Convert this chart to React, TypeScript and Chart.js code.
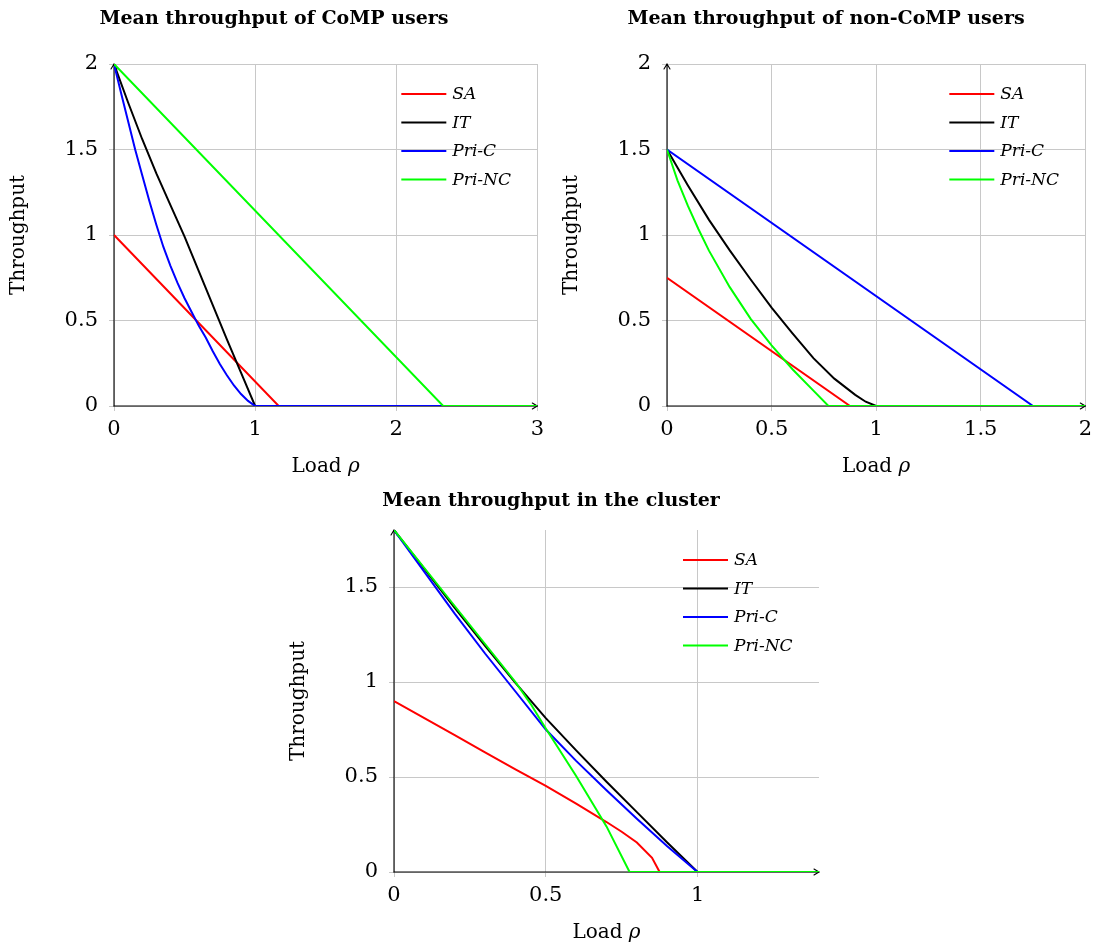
import React, { useEffect, useRef } from "react";
import { Chart, registerables } from "chart.js";

Chart.register(...registerables);

const SERIES_LABELS = ["SA", "IT", "Pri-C", "Pri-NC"];
const SERIES_COLORS = ["#ff0000", "#000000", "#0000ff", "#00ff00"];
const FONT = "'DejaVu Serif', serif";
const GRID = "#c8c8c8";

// ---------- Panel 1: CoMP users ----------
const COMP_TITLE = "Mean throughput of CoMP users";
const COMP_X_TICKS = [0, 1, 2, 3];
const COMP_X_LABELS = ["0", "1", "2", "3"];
const COMP_Y_TICKS = [0, 0.5, 1, 1.5, 2];
const COMP_Y_LABELS = ["0", "0.5", "1", "1.5", "2"];
const COMP_SA_X = [0, 1.167, 3];
const COMP_SA_Y = [1, 0, 0];
const COMP_IT_X = [0, 0.1, 0.2, 0.3, 0.4, 0.5, 0.6, 0.7, 0.8, 0.9, 1.0, 3];
const COMP_IT_Y = [2, 1.775, 1.56, 1.36, 1.175, 0.99, 0.79, 0.59, 0.39, 0.195, 0, 0];
const COMP_PRIC_X = [0, 0.05, 0.1, 0.15, 0.2, 0.25, 0.3, 0.35, 0.4, 0.45, 0.5, 0.55, 0.6, 0.65, 0.7, 0.75, 0.8, 0.85, 0.9, 0.95, 1.0, 3];
const COMP_PRIC_Y = [2, 1.83, 1.665, 1.5, 1.35, 1.2, 1.06, 0.93, 0.82, 0.72, 0.63, 0.55, 0.47, 0.4, 0.32, 0.245, 0.18, 0.12, 0.07, 0.03, 0, 0];
const COMP_PRINC_X = [0, 2.333, 3];
const COMP_PRINC_Y = [2, 0, 0];

// ---------- Panel 2: non-CoMP users ----------
const NONCOMP_TITLE = "Mean throughput of non-CoMP users";
const NONCOMP_X_TICKS = [0, 0.5, 1, 1.5, 2];
const NONCOMP_X_LABELS = ["0", "0.5", "1", "1.5", "2"];
const NONCOMP_Y_TICKS = [0, 0.5, 1, 1.5, 2];
const NONCOMP_Y_LABELS = ["0", "0.5", "1", "1.5", "2"];
const NONCOMP_SA_X = [0, 0.875, 2];
const NONCOMP_SA_Y = [0.75, 0, 0];
const NONCOMP_IT_X = [0, 0.1, 0.2, 0.3, 0.4, 0.5, 0.6, 0.7, 0.8, 0.9, 0.95, 1.0, 2];
const NONCOMP_IT_Y = [1.5, 1.29, 1.09, 0.91, 0.74, 0.575, 0.425, 0.28, 0.16, 0.065, 0.025, 0, 0];
const NONCOMP_PRIC_X = [0, 1.75, 2];
const NONCOMP_PRIC_Y = [1.5, 0, 0];
const NONCOMP_PRINC_X = [0, 0.05, 0.1, 0.15, 0.2, 0.3, 0.4, 0.5, 0.6, 0.7, 0.772, 2];
const NONCOMP_PRINC_Y = [1.5, 1.32, 1.17, 1.035, 0.91, 0.695, 0.51, 0.355, 0.215, 0.09, 0, 0];

// ---------- Panel 3: cluster ----------
const CLUSTER_TITLE = "Mean throughput in the cluster";
const CLUSTER_X_TICKS = [0, 0.5, 1];
const CLUSTER_X_LABELS = ["0", "0.5", "1"];
const CLUSTER_Y_TICKS = [0, 0.5, 1, 1.5];
const CLUSTER_Y_LABELS = ["0", "0.5", "1", "1.5"];
const CLUSTER_SA_X = [0, 0.1, 0.2, 0.3, 0.4, 0.5, 0.6, 0.7, 0.75, 0.8, 0.85, 0.875, 1.4];
const CLUSTER_SA_Y = [0.9, 0.81, 0.72, 0.63, 0.54, 0.453, 0.36, 0.263, 0.212, 0.155, 0.075, 0, 0];
const CLUSTER_IT_X = [0, 0.1, 0.2, 0.3, 0.4, 0.5, 0.6, 0.7, 0.8, 0.9, 1.0, 1.4];
const CLUSTER_IT_Y = [1.8, 1.595, 1.39, 1.19, 0.995, 0.81, 0.64, 0.475, 0.315, 0.155, 0, 0];
const CLUSTER_PRIC_X = [0, 0.1, 0.2, 0.3, 0.4, 0.5, 0.6, 0.7, 0.8, 0.9, 1.0, 1.4];
const CLUSTER_PRIC_Y = [1.8, 1.58, 1.36, 1.15, 0.95, 0.75, 0.585, 0.43, 0.28, 0.135, 0, 0];
const CLUSTER_PRINC_X = [0, 0.1, 0.2, 0.3, 0.4, 0.45, 0.5, 0.6, 0.7, 0.776, 1.4];
const CLUSTER_PRINC_Y = [1.8, 1.6, 1.4, 1.2, 1.0, 0.885, 0.755, 0.505, 0.24, 0, 0];

const X_TITLE_TEXT = "Load ";
const X_TITLE_SYMBOL = "ρ";
const Y_TITLE_TEXT = "Throughput";

type Series = { x: number[]; y: number[] };
type Panel = {
  title: string;
  xTicks: number[];
  xLabels: string[];
  xMax: number;
  yTicks: number[];
  yLabels: string[];
  yMax: number;
  series: Series[];
  box: { left: number; top: number; width: number; height: number };
  area: { left: number; top: number; right: number; bottom: number };
  titleX: number;
  titleY: number;
};

const PANELS: Panel[] = [
  {
    title: COMP_TITLE,
    xTicks: COMP_X_TICKS, xLabels: COMP_X_LABELS, xMax: 3,
    yTicks: COMP_Y_TICKS, yLabels: COMP_Y_LABELS, yMax: 2,
    series: [
      { x: COMP_SA_X, y: COMP_SA_Y },
      { x: COMP_IT_X, y: COMP_IT_Y },
      { x: COMP_PRIC_X, y: COMP_PRIC_Y },
      { x: COMP_PRINC_X, y: COMP_PRINC_Y },
    ],
    box: { left: 0, top: 0, width: 550, height: 480 },
    area: { left: 114, top: 64, right: 541, bottom: 406 },
    titleX: 274, titleY: 24,
  },
  {
    title: NONCOMP_TITLE,
    xTicks: NONCOMP_X_TICKS, xLabels: NONCOMP_X_LABELS, xMax: 2,
    yTicks: NONCOMP_Y_TICKS, yLabels: NONCOMP_Y_LABELS, yMax: 2,
    series: [
      { x: NONCOMP_SA_X, y: NONCOMP_SA_Y },
      { x: NONCOMP_IT_X, y: NONCOMP_IT_Y },
      { x: NONCOMP_PRIC_X, y: NONCOMP_PRIC_Y },
      { x: NONCOMP_PRINC_X, y: NONCOMP_PRINC_Y },
    ],
    box: { left: 550, top: 0, width: 548, height: 480 },
    area: { left: 117, top: 64, right: 540, bottom: 406 },
    titleX: 276, titleY: 24,
  },
  {
    title: CLUSTER_TITLE,
    xTicks: CLUSTER_X_TICKS, xLabels: CLUSTER_X_LABELS, xMax: 1.4,
    yTicks: CLUSTER_Y_TICKS, yLabels: CLUSTER_Y_LABELS, yMax: 1.8,
    series: [
      { x: CLUSTER_SA_X, y: CLUSTER_SA_Y },
      { x: CLUSTER_IT_X, y: CLUSTER_IT_Y },
      { x: CLUSTER_PRIC_X, y: CLUSTER_PRIC_Y },
      { x: CLUSTER_PRINC_X, y: CLUSTER_PRINC_Y },
    ],
    box: { left: 280, top: 480, width: 560, height: 466 },
    area: { left: 114, top: 50, right: 539, bottom: 392 },
    titleX: 271, titleY: 26,
  },
];

const decorPlugin = {
  id: "decor",
  beforeDatasetsDraw(chart: any) {
    const { ctx, chartArea: a } = chart;
    ctx.save();
    ctx.strokeStyle = "#000";
    ctx.lineWidth = 1.1;
    ctx.lineCap = "round";
    ctx.lineJoin = "round";
    ctx.beginPath();
    ctx.moveTo(a.left, a.bottom);
    ctx.lineTo(a.left, a.top);
    ctx.stroke();
    ctx.beginPath();
    ctx.moveTo(a.left - 3, a.top + 5);
    ctx.lineTo(a.left, a.top);
    ctx.lineTo(a.left + 3, a.top + 5);
    ctx.stroke();
    ctx.beginPath();
    ctx.moveTo(a.left, a.bottom);
    ctx.lineTo(a.right, a.bottom);
    ctx.stroke();
    ctx.beginPath();
    ctx.moveTo(a.right - 5, a.bottom - 3);
    ctx.lineTo(a.right, a.bottom);
    ctx.lineTo(a.right - 5, a.bottom + 3);
    ctx.stroke();
    ctx.restore();
  },
  afterDraw(chart: any, _args: any, opts: any) {
    const { ctx, chartArea: a } = chart;
    ctx.save();
    ctx.fillStyle = "#000";
    ctx.font = `bold 19px ${FONT}`;
    ctx.textAlign = "center";
    ctx.textBaseline = "alphabetic";
    ctx.fillText(opts.title, opts.titleX, opts.titleY);

    ctx.textAlign = "left";
    ctx.font = `20px ${FONT}`;
    const w1 = ctx.measureText(X_TITLE_TEXT).width;
    ctx.font = `italic 20px ${FONT}`;
    const w2 = ctx.measureText(X_TITLE_SYMBOL).width;
    const cx = (a.left + a.right) / 2;
    const bx = cx - (w1 + w2) / 2;
    const by = a.bottom + 65.5;
    ctx.font = `20px ${FONT}`;
    ctx.fillText(X_TITLE_TEXT, bx, by);
    ctx.font = `italic 20px ${FONT}`;
    ctx.fillText(X_TITLE_SYMBOL, bx + w1, by);

    ctx.save();
    ctx.translate(a.left - 90, (a.top + a.bottom) / 2);
    ctx.rotate(-Math.PI / 2);
    ctx.font = `20px ${FONT}`;
    ctx.textAlign = "center";
    ctx.fillText(Y_TITLE_TEXT, 0, 0);
    ctx.restore();

    const datasets = chart.data.datasets;
    ctx.font = `italic 17px ${FONT}`;
    ctx.textAlign = "left";
    datasets.forEach((ds: any, i: number) => {
      const ry = a.top + 30 + i * 28.5;
      const lx = a.right - 136;
      ctx.strokeStyle = ds.borderColor;
      ctx.lineWidth = 2;
      ctx.beginPath();
      ctx.moveTo(lx, ry);
      ctx.lineTo(lx + 45, ry);
      ctx.stroke();
      ctx.fillStyle = "#000";
      ctx.fillText(ds.label, lx + 51, ry + 5);
    });
    ctx.restore();
  },
};

function makeConfig(p: Panel): any {
  const datasets = p.series.map((s, i) => ({
    label: SERIES_LABELS[i],
    data: s.x.map((x, k) => ({ x, y: s.y[k] })),
    borderColor: SERIES_COLORS[i],
    backgroundColor: SERIES_COLORS[i],
    borderWidth: 2,
    pointRadius: 0,
    showLine: true,
    tension: 0,
    fill: false,
    order: SERIES_LABELS.length - i,
  }));
  const fixedTicks = (vals: number[]) => (scale: any) => {
    scale.ticks = vals.map((v) => ({ value: v }));
  };
  return {
    type: "scatter",
    data: { datasets },
    options: {
      animation: false,
      responsive: false,
      devicePixelRatio: 1,
      events: [],
      layout: {
        padding: { left: 0, top: p.area.top, right: p.box.width - p.area.right, bottom: 0 },
      },
      plugins: {
        legend: { display: false },
        title: { display: false },
        tooltip: { enabled: false },
        decor: { title: p.title, titleX: p.titleX, titleY: p.titleY },
      },
      scales: {
        x: {
          type: "linear",
          min: 0,
          max: p.xMax,
          afterBuildTicks: fixedTicks(p.xTicks),
          afterFit: (s: any) => {
            s.height = p.box.height - p.area.bottom;
          },
          grid: { color: GRID, lineWidth: 1, tickLength: 5, drawTicks: true },
          border: { display: false },
          ticks: {
            font: { family: FONT, size: 21 },
            color: "#000",
            padding: 6,
            maxRotation: 0,
            autoSkip: false,
            callback: (_v: any, idx: number) => p.xLabels[idx],
          },
        },
        y: {
          type: "linear",
          min: 0,
          max: p.yMax,
          afterBuildTicks: fixedTicks(p.yTicks),
          afterFit: (s: any) => {
            s.width = p.area.left;
          },
          grid: { color: GRID, lineWidth: 1, tickLength: 5, drawTicks: true },
          border: { display: false },
          ticks: {
            font: { family: FONT, size: 21 },
            color: "#000",
            padding: 11,
            autoSkip: false,
            callback: (_v: any, idx: number) => p.yLabels[idx],
          },
        },
      },
    },
    plugins: [decorPlugin],
  };
}

function PanelChart({ panel }: { panel: Panel }) {
  const ref = useRef<HTMLCanvasElement | null>(null);
  useEffect(() => {
    if (!ref.current) return;
    const chart = new Chart(ref.current, makeConfig(panel));
    return () => chart.destroy();
  }, [panel]);
  return (
    <canvas
      ref={ref}
      width={panel.box.width}
      height={panel.box.height}
      style={{
        position: "absolute",
        left: panel.box.left,
        top: panel.box.top,
        width: panel.box.width,
        height: panel.box.height,
      }}
    />
  );
}

export default function App() {
  return (
    <div
      style={{
        position: "absolute",
        left: 0,
        top: 0,
        width: 1100,
        height: 949,
        background: "#fff",
        overflow: "hidden",
      }}
    >
      {PANELS.map((p, i) => (
        <PanelChart key={i} panel={p} />
      ))}
    </div>
  );
}
